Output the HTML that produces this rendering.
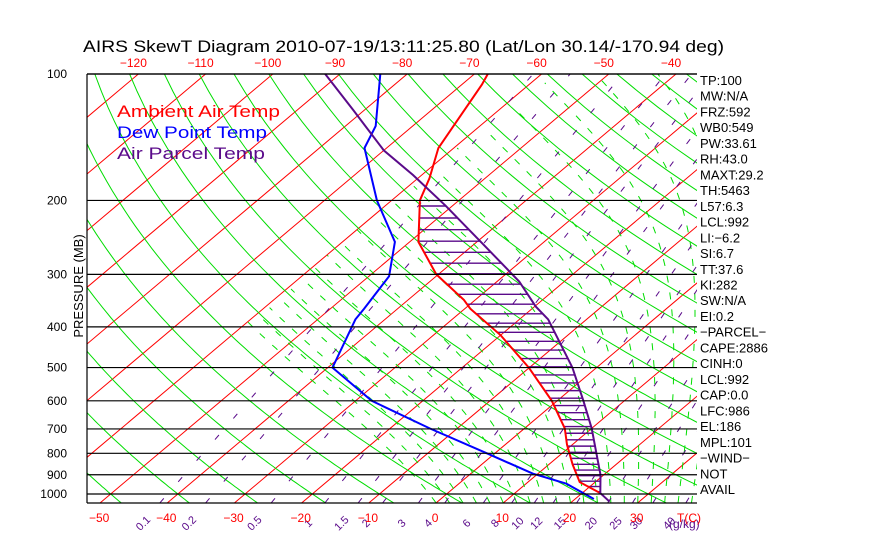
<!DOCTYPE html>
<html><head><meta charset="utf-8"><style>
html,body{margin:0;padding:0;background:#fff;}
svg{display:block;font-family:"Liberation Sans",sans-serif;}
</style></head><body>
<svg id="chart" width="870" height="560" viewBox="0 0 870 560" xmlns="http://www.w3.org/2000/svg">
<rect width="870" height="560" fill="#fff"/>
<defs><clipPath id="plotclip"><rect x="87" y="74" width="610" height="429"/></clipPath></defs>
<text x="83" y="52" font-size="17" textLength="641" lengthAdjust="spacingAndGlyphs" fill="#000">AIRS SkewT Diagram 2010-07-19/13:11:25.80 (Lat/Lon 30.14/-170.94 deg)</text>
<g id="grid" clip-path="url(#plotclip)"></g>
<g id="profiles" clip-path="url(#plotclip)"></g>
<g id="frame"></g>
<g id="labels"></g>
<g font-size="17">
<text x="117" y="117" fill="#ff0000" textLength="163" lengthAdjust="spacingAndGlyphs">Ambient Air Temp</text>
<text x="117" y="138" fill="#0000ff" textLength="150" lengthAdjust="spacingAndGlyphs">Dew Point Temp</text>
<text x="117" y="159" fill="#5a0a8a" textLength="148" lengthAdjust="spacingAndGlyphs">Air Parcel Temp</text>
</g>
<text transform="translate(83,286) rotate(-90)" text-anchor="middle" font-size="13" fill="#000">PRESSURE (MB)</text>
</svg>
<script>
// ---- data ----
const tempP = [100,106,150,177,200,251,300,345,362,418,500,600,698,763,850,937,995];
const tempT = [-68.0,-67.0,-62.3,-58.3,-55.8,-48.7,-40.3,-31.7,-29.2,-20.1,-10.1,-0.8,6.0,9.2,13.5,17.7,22.7];
const dewP = [100,133,150,200,251,303,362,384,500,600,698,800,894,945,1028];
const dewT = [-84.0,-75.5,-73.3,-62.2,-52.2,-47.0,-45.0,-44.4,-39.3,-27.6,-14.1,-1.2,9.2,16.0,22.8];
const parcelP = [100,122,152,174,206,251,282,312,358,384,500,600,698,800,900,995,1043];
const parcelT = [-92.2,-81.6,-70.0,-61.3,-51.0,-39.4,-32.6,-26.7,-19.8,-15.7,-3.6,3.9,10.0,15.1,19.5,22.7,25.6];
const pressureTicks = [100,200,300,400,500,600,700,800,900,1000];
const bottomTempTicks = [-50,-40,-30,-20,-10,0,10,20,30];
const topTempTicks = [-120,-110,-100,-90,-80,-70,-60,-50,-40];
const mixRatios = [0.1,0.2,0.5,1,1.5,2,3,4,6,8,10,12,15,20,25,30,40];
const infoLines = ["TP:100","MW:N/A","FRZ:592","WB0:549","PW:33.61","RH:43.0","MAXT:29.2","TH:5463","L57:6.3","LCL:992","LI:\u22126.2","SI:6.7","TT:37.6","KI:282","SW:N/A","EI:0.2","\u2212PARCEL\u2212","CAPE:2886","CINH:0","LCL:992","CAP:0.0","LFC:986","EL:186","MPL:101","\u2212WIND\u2212","NOT","AVAIL"];

// ---- axes ----
const NS="http://www.w3.org/2000/svg";
const Y0=74, YB=503, XL=87, XR=697;
function yP(p){return Y0+420*Math.log10(p/100);}
function xT(T,p){return 436+6.72*T+1.186*(YB-yP(p));}
function mk(tag,attrs,parent){const e=document.createElementNS(NS,tag);for(const k in attrs)e.setAttribute(k,attrs[k]);parent.appendChild(e);return e;}
const grid=document.getElementById('grid'), prof=document.getElementById('profiles'), frame=document.getElementById('frame'), lab=document.getElementById('labels');
const PB=1050;
function pathFrom(pts){return pts.map((q,i)=>(i?'L':'M')+q[0].toFixed(1)+','+q[1].toFixed(1)).join('');}

// isotherms
for(let T=-140;T<=40;T+=10){
  const e=mk('line',{x1:xT(T,PB),y1:yP(PB),x2:xT(T,100),y2:yP(100),stroke:'#ff0000','stroke-width':1},grid);
  
  
}
// dry adiabats
for(let th=223.15;th<=470;th+=10){
  const pts=[];
  for(let p=PB;p>=100;p-=10){const T=th*Math.pow(p/1000,0.2857)-273.15;pts.push([xT(T,p),yP(p)]);}
  const e=mk('path',{d:pathFrom(pts),fill:'none',stroke:'#00dd00','stroke-width':1},grid);
  
  
}
// moist adiabats
function es(T){return 6.112*Math.exp(17.67*(T-273.15)/(T-29.65));}
for(let T0=0;T0<=40;T0+=2){
  let T=T0+273.15;const pts=[];
  for(let p=PB;p>=100;p-=5){
    if(T-273.15<-60)break;
    pts.push([xT(T-273.15,p),yP(p)]);
    const e=es(T), rs=0.622*e/Math.max(p-e,1);
    const dTdp=(287*T+2.5e6*rs)/(p*(1005+2.5e6*2.5e6*rs*0.622/(287*T*T)));
    T-=dTdp*5;
  }
  if(pts.length<2)continue;
  const e=mk('path',{d:pathFrom(pts),fill:'none',stroke:'#00dd00','stroke-width':1,'stroke-dasharray':'7 10'},grid);
  
  
}
// mixing ratio lines
function tdFor(w,p){const e=w*p/(622+w);const l=Math.log(e/6.112);return 243.5*l/(17.67-l);}
mixRatios.forEach(w=>{
  const e=mk('line',{x1:xT(tdFor(w,PB),PB),y1:yP(PB),x2:xT(tdFor(w,100),100),y2:yP(100),stroke:'#5a0a8a','stroke-width':1,'stroke-dasharray':'6 22'},grid);
  
  
  const xl=xT(tdFor(w,PB),PB)-17;
  const t=mk('text',{x:xl,y:527,'text-anchor':'middle','font-size':11,fill:'#5a0a8a',transform:'rotate(-45 '+xl+' 523)'},lab);
  t.textContent=String(w);
  
  
});
{const t=mk('text',{x:669,y:528,'font-size':12,fill:'#5a0a8a'},lab);t.textContent='(g/kg)';

}

// pressure lines and labels
pressureTicks.forEach(p=>{
  const e=mk('line',{x1:XL,y1:yP(p),x2:XR,y2:yP(p),stroke:'#000','stroke-width':1.2},frame);
  
  
  const t=mk('text',{x:67,y:yP(p)+4,'text-anchor':'end','font-size':12,fill:'#000'},lab);
  t.textContent=String(p);
  
  
});
{const e=mk('line',{x1:XL,y1:YB,x2:XR,y2:YB,stroke:'#000','stroke-width':1.2},frame);
const l=mk('line',{x1:XL,y1:Y0,x2:XL,y2:YB,stroke:'#000','stroke-width':1.2},frame);}

// temp labels
bottomTempTicks.forEach(T=>{
  const t=mk('text',{x:xT(T,PB)-1,y:522,'text-anchor':'middle','font-size':12,fill:'#ff0000'},lab);
  t.textContent=String(T).replace('-','\u2212');
  
  
});
{const t=mk('text',{x:677,y:522,'font-size':12,fill:'#ff0000'},lab);t.textContent='T(C)';
}
topTempTicks.forEach(T=>{
  const t=mk('text',{x:xT(T,100)-5,y:67,'text-anchor':'middle','font-size':12,fill:'#ff0000'},lab);
  t.textContent=String(T).replace('-','\u2212');
  
  
});
// info list
infoLines.forEach((s,i)=>{
  const t=mk('text',{x:700,y:85+i*15.73,'font-size':13,fill:'#000'},lab);
  t.textContent=s;
  
  
});

// profiles
function pts(P,T){return P.map((p,i)=>[xT(T[i],p),yP(p)]);}
const tp=pts(tempP,tempT), dp=pts(dewP,dewT), pp=pts(parcelP,parcelT);
function xAtY(line,y){for(let i=0;i<line.length-1;i++){const a=line[i],b=line[i+1];if(y>=a[1]&&y<=b[1]){const f=(y-a[1])/((b[1]-a[1])||1);return a[0]+f*(b[0]-a[0]);}}return null;}
// hatch
for(let y=206;y<=492;){
  const xr=xAtY(tp,y), xp=xAtY(pp,y);
  if(xr!==null&&xp!==null&&xp>xr){
    const e=mk('line',{x1:xr,y1:y,x2:xp,y2:y,stroke:'#5a0a8a','stroke-width':1.4},prof);
    
    
  }
  y+=12-7*(y-206)/290;
}
[[tp,'#ff0000','temperature-line'],[dp,'#0000ff','dewpoint-line'],[pp,'#5a0a8a','parcel-line']].forEach(a=>{
  const e=mk('path',{d:pathFrom(a[0]),fill:'none',stroke:a[1],'stroke-width':2},prof);
  
  
});
{const e=mk('line',{x1:XL,y1:Y0,x2:XR,y2:Y0,stroke:'#000','stroke-width':1.2},frame);}
</script>
</body></html>
